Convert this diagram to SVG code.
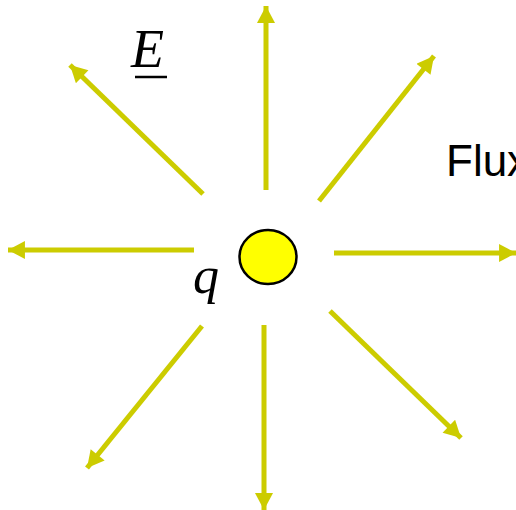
<svg xmlns="http://www.w3.org/2000/svg" width="516" height="510" viewBox="0 0 516 510">
<defs>
<marker id="ah" markerUnits="userSpaceOnUse" markerWidth="18" markerHeight="18" viewBox="0 0 16 17" refX="16" refY="8.5" orient="auto">
<path d="M0,0 L16,8.5 L0,17 Z" fill="#CCCC00"/>
</marker>
<style>
.arr{stroke:#CCCC00;stroke-width:5;fill:none;marker-end:url(#ah)}
.lbl{font-family:"Liberation Serif","Times New Roman",serif;font-style:italic;fill:#000}
</style>
</defs>
<rect width="516" height="510" fill="#fff"/>
<g id="connectors">
<line class="arr" x1="266" y1="190" x2="266" y2="6"/>
<line class="arr" x1="319" y1="201" x2="434" y2="56"/>
<line class="arr" x1="334" y1="253" x2="516" y2="253"/>
<line class="arr" x1="330" y1="311" x2="461" y2="438"/>
<line class="arr" x1="264" y1="325" x2="264" y2="510"/>
<line class="arr" x1="202" y1="326" x2="87" y2="468"/>
<line class="arr" x1="194" y1="250" x2="8" y2="250"/>
<line class="arr" x1="203" y1="194" x2="70" y2="65"/>
</g>
<g id="charge">
<ellipse cx="268" cy="257" rx="28.5" ry="27" fill="#FFFF00" stroke="#000" stroke-width="2.5"/>
</g>
<g id="label-q">
<text class="lbl" x="193" y="293" font-size="52">q</text>
</g>
<g id="label-E">
<text class="lbl" x="131" y="67" font-size="54">E</text>
<line x1="135" y1="77" x2="167" y2="77" stroke="#000" stroke-width="2.5"/>
</g>
<g id="label-flux">
<text x="446" y="176" font-family="'Liberation Sans',Arial,sans-serif" font-size="44" fill="#000">Flux</text>
</g>
</svg>
